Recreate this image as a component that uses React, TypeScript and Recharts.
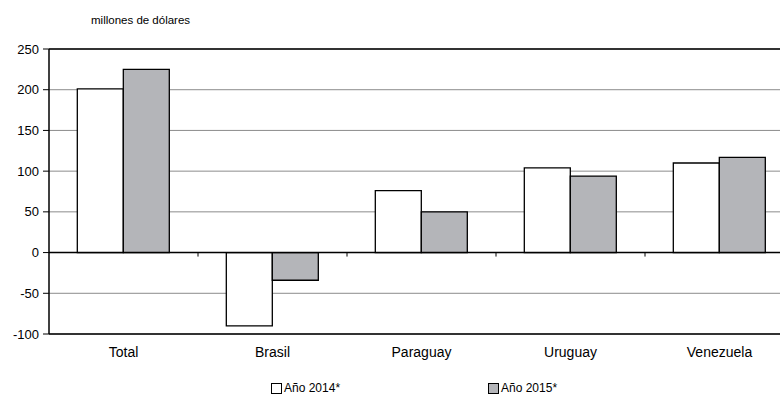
import { BarChart, Bar, XAxis, YAxis, CartesianGrid, ReferenceLine } from "recharts";

const categories = ["Total", "Brasil", "Paraguay", "Uruguay", "Venezuela"];
const values2014 = [201, -90, 76, 104, 110];
const values2015 = [225, -34, 50, 94, 117];
const yTicks = [-100, -50, 0, 50, 100, 150, 200, 250];
const Y_MIN = -100;
const Y_MAX = 250;

const FONT = "'Liberation Sans', Arial, sans-serif";
const GRAY = "#b4b5b9";

const CHART_W = 800;
const CHART_H = 398;
const MARGIN = { top: 49, right: 6, left: 0, bottom: 0 };
const Y_AXIS_W = 49;
const X_AXIS_H = 64;
const PLOT_H = CHART_H - MARGIN.top - MARGIN.bottom - X_AXIS_H;
const PLOT_W = CHART_W - MARGIN.left - MARGIN.right - Y_AXIS_W;

const data = categories.map((name, i) => ({
  name,
  a2014: values2014[i],
  a2015: values2015[i],
}));

// category label, plus the little tick under the zero line at the left edge of each category
const CategoryTick = (props: any) => {
  const { x, y, payload } = props;
  const idx = categories.indexOf(payload.value);
  const half = PLOT_W / categories.length / 2;
  const zeroY = MARGIN.top + PLOT_H * (Y_MAX / (Y_MAX - Y_MIN));
  return (
    <g>
      {idx > 0 && (
        <line x1={x - half} x2={x - half} y1={zeroY} y2={zeroY + 4} stroke="#000" strokeWidth={1} />
      )}
      <text x={x} y={y} dy="0.71em" textAnchor="middle" fontSize={14} fill="#000" fontFamily={FONT}>
        {payload.value}
      </text>
    </g>
  );
};

const App = () => {
  return (
    <div
      style={{
        position: "absolute",
        left: 0,
        top: 0,
        width: 780,
        height: 398,
        overflow: "hidden",
        background: "#fff",
        fontFamily: FONT,
      }}
    >
      <div style={{ position: "absolute", left: 91, top: 14, fontSize: 11.5, color: "#000" }}>
        millones de dólares
      </div>
      <BarChart
        width={CHART_W}
        height={CHART_H}
        data={data}
        margin={MARGIN}
        barCategoryGap="19%"
        barGap={0}
      >
        <CartesianGrid vertical={false} stroke="#8c8c8c" strokeWidth={1} />
        <YAxis
          width={Y_AXIS_W}
          domain={[Y_MIN, Y_MAX]}
          ticks={yTicks}
          interval={0}
          axisLine={{ stroke: "#000", strokeWidth: 1.5 }}
          tickLine={{ stroke: "#000" }}
          tickSize={6}
          tickMargin={4}
          tick={{ fontSize: 13, fill: "#000", fontFamily: FONT }}
        />
        <ReferenceLine y={Y_MAX} stroke="#000" strokeWidth={1.5} />
        <Bar dataKey="a2014" fill="#fff" stroke="#000" strokeWidth={1.3} isAnimationActive={false} />
        <Bar dataKey="a2015" fill={GRAY} stroke="#000" strokeWidth={1.3} isAnimationActive={false} />
        <ReferenceLine y={0} stroke="#000" strokeWidth={1.5} />
        <XAxis
          dataKey="name"
          height={X_AXIS_H}
          axisLine={{ stroke: "#000", strokeWidth: 1.5 }}
          tickLine={false}
          tickSize={6}
          tickMargin={7}
          tick={CategoryTick}
          interval={0}
        />
      </BarChart>
      <div style={{ position: "absolute", left: 271, top: 381, display: "flex", alignItems: "center", fontSize: 12 }}>
        <span style={{ width: 9, height: 9, border: "1px solid #000", background: "#fff", marginRight: 2 }} />
        <span>Año 2014*</span>
      </div>
      <div style={{ position: "absolute", left: 488, top: 381, display: "flex", alignItems: "center", fontSize: 12 }}>
        <span style={{ width: 9, height: 9, border: "1px solid #000", background: GRAY, marginRight: 2 }} />
        <span>Año 2015*</span>
      </div>
    </div>
  );
};

export default App;
